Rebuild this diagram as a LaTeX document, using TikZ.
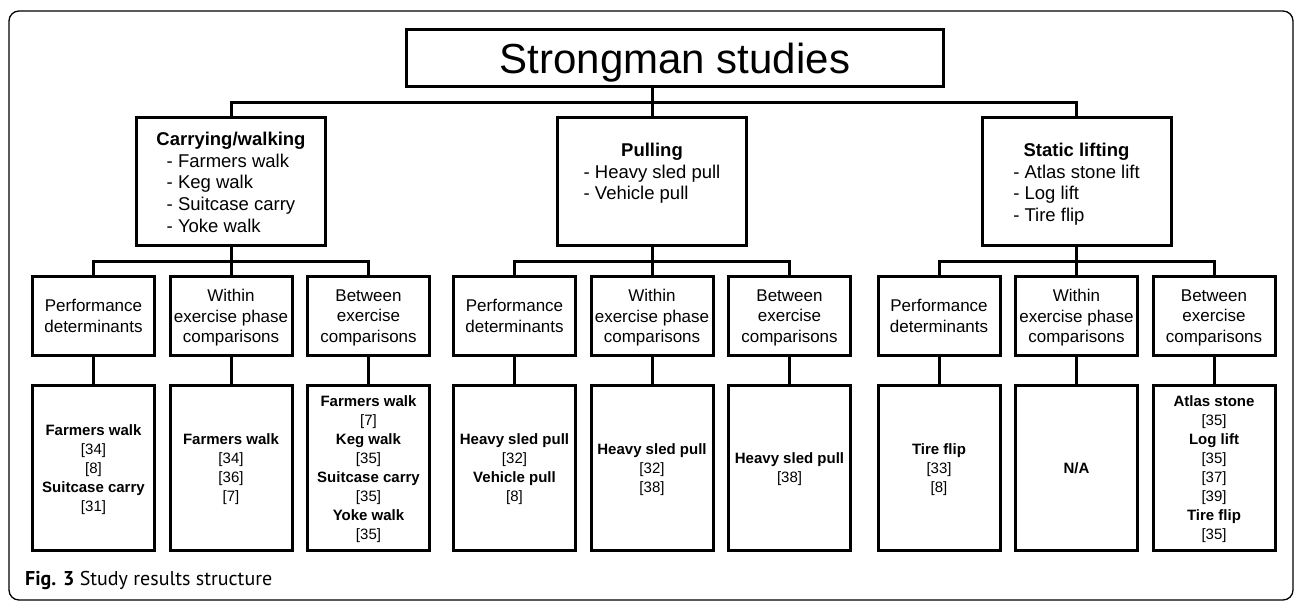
\documentclass[tikz,border=0pt]{standalone}
\usepackage{fontspec}
\setmainfont{Liberation Sans}
\newfontfamily\capfont{PT Sans}
\usetikzlibrary{positioning,calc}
\tikzset{
	title/.style={rectangle, draw=black, line width=3pt, minimum width=537pt, minimum height=57pt, text depth=0pt, font=\fontsize{42}{50}\selectfont},
	group/.style={rectangle, draw=black, line width=3pt, minimum width=189pt, minimum height=128pt, align=center, font=\fontsize{18.5}{21.7}\selectfont},
	aspect/.style={rectangle, draw=black, line width=3pt, minimum width=122pt, minimum height=79pt, inner sep=1pt, text depth=-2.5pt, align=center, font=\fontsize{17}{20.7}\selectfont, node distance=12.5pt},
	result/.style={rectangle, draw=black, line width=3pt, minimum width=122pt, minimum height=165pt, inner sep=1pt, text depth=-3pt, align=center, font=\fontsize{15}{19}\selectfont},
	link/.style={line width=3pt}
}

\begin{document}
\begin{tikzpicture}[x=1pt, y=-1pt]
\useasboundingbox (0,0) rectangle (1295,602);
\draw[line width=1.3pt, rounded corners=10pt] (9,11) rectangle (1293,600);

\node[title] (Title) at (675,58) {Strongman studies};
\node[group, text depth=63.6pt] (Carry) at (231,181.5) {\textbf{Carrying/walking}\\\begin{tabular}[t]{@{}l@{}}- Farmers walk\\- Keg walk\\- Suitcase carry\\- Yoke walk\end{tabular}};
\node[group, text depth=42pt] (Pull) at (652,181.5) {\textbf{Pulling}\\\begin{tabular}[t]{@{}l@{}}- Heavy sled pull\\- Vehicle pull\end{tabular}};
\node[group, text depth=42pt] (Static) at (1076.5,181.5) {\textbf{Static lifting}\\\begin{tabular}[t]{@{}l@{}}- Atlas stone lift\\- Log lift\\- Tire flip\end{tabular}};

\node[aspect] (C2) [below=28pt of Carry] {Within\\exercise phase\\comparisons};
\node[aspect] (C1) [left=of C2] {Performance\\determinants};
\node[aspect] (C3) [right=of C2] {Between\\exercise\\comparisons};
\node[aspect] (P2) [below=28pt of Pull] {Within\\exercise phase\\comparisons};
\node[aspect] (P1) [left=of P2] {Performance\\determinants};
\node[aspect] (P3) [right=of P2] {Between\\exercise\\comparisons};
\node[aspect] (S2) [below=28pt of Static] {Within\\exercise phase\\comparisons};
\node[aspect] (S1) [left=of S2] {Performance\\determinants};
\node[aspect] (S3) [right=of S2] {Between\\exercise\\comparisons};

\node[result] (Cr1) [below=27pt of C1] {\textbf{Farmers walk}\\{[34]}\\{[8]}\\\textbf{Suitcase carry}\\{[31]}};
\node[result] (Cr2) [below=27pt of C2] {\textbf{Farmers walk}\\{[34]}\\{[36]}\\{[7]}};
\node[result] (Cr3) [below=27pt of C3] {\textbf{Farmers walk}\\{[7]}\\\textbf{Keg walk}\\{[35]}\\\textbf{Suitcase carry}\\{[35]}\\\textbf{Yoke walk}\\{[35]}};
\node[result] (Pr1) [below=27pt of P1] {\textbf{Heavy sled pull}\\{[32]}\\\textbf{Vehicle pull}\\{[8]}};
\node[result] (Pr2) [below=27pt of P2] {\textbf{Heavy sled pull}\\{[32]}\\{[38]}};
\node[result] (Pr3) [below=27pt of P3] {\textbf{Heavy sled pull}\\{[38]}};
\node[result] (Sr1) [below=27pt of S1] {\textbf{Tire flip}\\{[33]}\\{[8]}};
\node[result] (Sr2) [below=27pt of S2] {\textbf{N/A}};
\node[result] (Sr3) [below=27pt of S3] {\textbf{Atlas stone}\\{[35]}\\\textbf{Log lift}\\{[35]}\\{[37]}\\{[39]}\\\textbf{Tire flip}\\{[35]}};

% tree connectors
\draw[link] (Title.south -| Pull.north) -- (Pull.north);
\draw[link] (Carry.north) |- ($(Title.south -| Pull.north)!0.5!(Pull.north)$) -| (Static.north);
\draw[link] (Carry.south) -- (C2.north);
\draw[link] (C1.north) |- ($(Carry.south)!0.5!(C2.north)$) -| (C3.north);
\draw[link] (Pull.south) -- (P2.north);
\draw[link] (P1.north) |- ($(Pull.south)!0.5!(P2.north)$) -| (P3.north);
\draw[link] (Static.south) -- (S2.north);
\draw[link] (S1.north) |- ($(Static.south)!0.5!(S2.north)$) -| (S3.north);
\draw[link] (C1) -- (Cr1);
\draw[link] (C2) -- (Cr2);
\draw[link] (C3) -- (Cr3);
\draw[link] (P1) -- (Pr1);
\draw[link] (P2) -- (Pr2);
\draw[link] (P3) -- (Pr3);
\draw[link] (S1) -- (Sr1);
\draw[link] (S2) -- (Sr2);
\draw[link] (S3) -- (Sr3);

\node[anchor=base west, inner sep=0pt, font=\capfont\fontsize{20}{24}\selectfont] (Caption) at (25,585) {\textbf{Fig. 3} Study results structure};
\end{tikzpicture}
\end{document}
